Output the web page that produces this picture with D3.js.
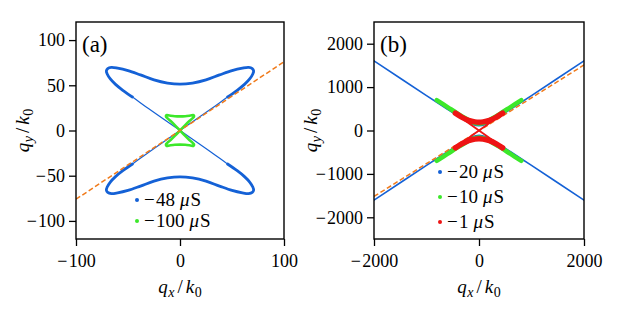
<!DOCTYPE html>
<html>
<head>
<meta charset="utf-8">
<script src="https://cdn.jsdelivr.net/npm/d3@7"></script>
<style>
  body { margin: 0; background: #fff; }
  svg { display: block; }
  svg text { font-family: "Liberation Serif"; }
</style>
</head>
<body>
<div class="chart"></div>
<script>
// ---- data ----
// panel (a)
const blue48Upper = [[45,36.5],[55,44.5],[62,51],[67,57],[70,62.5],[70.8,66],[69.5,68.5],[66,69.8],[60,69],[50,66.3],[38,61.5],[25,56],[12,52.5],[0,51.3],[-12,52.5],[-25,56],[-38,61.5],[-50,66.3],[-60,69],[-66,69.8],[-69.5,68.5],[-70.8,66],[-70,62.5],[-67,57],[-62,51],[-55,44.5],[-45,36.5]];
const blue48Lower = [[45,-36.5],[55,-44.5],[62,-51],[67,-57],[70,-62.5],[70.8,-66],[69.5,-68.5],[66,-69.8],[60,-69],[50,-66.3],[38,-61.5],[25,-56],[12,-52.5],[0,-51.3],[-12,-52.5],[-25,-56],[-38,-61.5],[-50,-66.3],[-60,-69],[-66,-69.8],[-69.5,-68.5],[-70.8,-66],[-70,-62.5],[-67,-57],[-62,-51],[-55,-44.5],[-45,-36.5]];
const blue48Diag1 = [[-55,44.5],[-45,36.5],[-30,24],[0,0],[30,-24],[45,-36.5],[55,-44.5]];
const blue48Diag2 = [[55,44.5],[45,36.5],[30,24],[0,0],[-30,-24],[-45,-36.5],[-55,-44.5]];
const green100 = [[0,0],[5,6],[9,10.5],[12,13.5],[13.5,15.5],[13,17],[10,16.5],[5,15.8],[0,15.6],[-5,15.8],[-10,16.5],[-13,17],[-13.5,15.5],[-12,13.5],[-9,10.5],[-5,6],[0,0],[5,-6],[9,-10.5],[12,-13.5],[13.5,-15.5],[13,-17],[10,-16.5],[5,-15.8],[0,-15.6],[-5,-15.8],[-10,-16.5],[-13,-17],[-13.5,-15.5],[-12,-13.5],[-9,-10.5],[-5,-6],[0,0]];
const orangeA = [[-100,-76],[100,76]];

// panel (b)
const blue20Upper = [[-2000,1605],[-1000,805],[-600,490],[-400,335],[-250,225],[-130,145],[0,110],[130,145],[250,225],[400,335],[600,490],[1000,805],[2000,1605]];
const blue20Lower = [[-2000,-1605],[-1000,-805],[-600,-490],[-400,-335],[-250,-225],[-130,-145],[0,-110],[130,-145],[250,-225],[400,-335],[600,-490],[1000,-805],[2000,-1605]];
const green10Upper = [[-806,700],[-600,540],[-400,385],[-250,275],[-130,195],[0,160],[130,195],[250,275],[400,385],[600,540],[806,700]];
const green10Lower = [[-806,-700],[-600,-540],[-400,-385],[-250,-275],[-130,-195],[0,-160],[130,-195],[250,-275],[400,-385],[600,-540],[806,-700]];
const red1Upper = [[-450,400],[-330,310],[-200,235],[-80,198],[0,190],[80,198],[200,235],[330,310],[450,400]];
const red1Lower = [[-450,-400],[-330,-310],[-200,-235],[-80,-198],[0,-190],[80,-198],[200,-235],[330,-310],[450,-400]];
const red1Diag1 = [[-380,330],[0,0],[380,-330]];
const red1Diag2 = [[380,330],[0,0],[-380,-330]];
const orangeB = [[-2000,-1520],[2000,1510]];

const ticksAx = [-100, 0, 100];
const ticksAy = [100, 50, 0, -50, -100];
const ticksBx = [-2000, 0, 2000];
const ticksBy = [2000, 1000, 0, -1000, -2000];

const legendA = ["\u221248", "\u2212100"];
const legendB = ["\u221220", "\u221210", "\u22121"];

// ---- setup ----
const width = 618;
const height = 314;
const fontSize = 18;

const colBlue = "#1461d6";
const colGreen = "#3ce82a";
const colRed = "#ee1414";
const colOrange = "#f07a1a";

const svg = d3
  .select(".chart")
  .append("svg")
  .attr("width", width)
  .attr("height", height);

const xA = d3.scaleLinear().domain([-100, 100]).range([76, 284]);
const yA = d3.scaleLinear().domain([-120, 120]).range([239, 22]);
const xB = d3.scaleLinear().domain([-2000, 2000]).range([374, 584]);
const yB = d3.scaleLinear().domain([-2500, 2500]).range([239, 22]);

// split a leading minus sign off so it can get TeX-like spacing
function widenMinus(sel) {
  sel.each(function () {
    let t = d3.select(this);
    let s = t.text();
    if (s.startsWith("\u2212")) {
      t.text("");
      t.append("tspan").text("\u2212");
      t.append("tspan").attr("dx", 1.2).text(s.slice(1));
    }
  });
}

function drawAxes(x, y, xTicks, yTicks, id) {
  let g = svg.append("g");

  let xAxis = g
    .append("g")
    .attr("transform", `translate(0,${y.range()[0]})`)
    .call(d3.axisBottom(x).tickValues(xTicks).tickSize(7).tickPadding(8).tickFormat(d3.format("d")));
  let yAxis = g
    .append("g")
    .attr("transform", `translate(${x.range()[0]},0)`)
    .call(d3.axisLeft(y).tickValues(yTicks).tickSize(7).tickPadding(4).tickFormat(d3.format("d")));

  [xAxis, yAxis].forEach((a) => {
    a.select(".domain").remove();
    a.selectAll("line").attr("stroke", "#000").attr("stroke-width", 1.3);
    a.selectAll("text").attr("fill", "#000").attr("font-size", fontSize).call(widenMinus);
  });

  svg
    .append("defs")
    .append("clipPath")
    .attr("id", id)
    .append("rect")
    .attr("x", x.range()[0])
    .attr("y", y.range()[1])
    .attr("width", x.range()[1] - x.range()[0])
    .attr("height", y.range()[0] - y.range()[1]);
}

function drawFrame(x, y) {
  svg
    .append("rect")
    .attr("x", x.range()[0])
    .attr("y", y.range()[1])
    .attr("width", x.range()[1] - x.range()[0])
    .attr("height", y.range()[0] - y.range()[1])
    .attr("fill", "none")
    .attr("stroke", "#000")
    .attr("stroke-width", 1.4);
}

function mathLabel(g, a, sa, b, sb) {
  let t = g.append("text").attr("font-size", 19).attr("text-anchor", "middle");
  t.append("tspan").attr("font-style", "italic").text(a);
  t.append("tspan").attr("font-style", "italic").attr("font-size", 14).attr("dy", 3.5).attr("dx", 0.5).text(sa);
  t.append("tspan").attr("dy", -3.5).attr("dx", 3).text("/");
  t.append("tspan").attr("font-style", "italic").attr("dx", 3).text(b);
  t.append("tspan").attr("font-size", 14).attr("dy", 3.5).attr("dx", 0.5).text(sb);
  return t;
}

function drawLabels(x, y, yLabelX, tag) {
  let cx = (x.range()[0] + x.range()[1]) / 2;
  let cy = (y.range()[0] + y.range()[1]) / 2;

  mathLabel(svg.append("g").attr("transform", `translate(${cx},293)`), "q", "x", "k", "0");
  mathLabel(svg.append("g").attr("transform", `translate(${yLabelX},${cy}) rotate(-90)`), "q", "y", "k", "0");

  svg
    .append("text")
    .attr("x", x.range()[0] + 6)
    .attr("y", y.range()[1] + 30)
    .attr("font-size", 23)
    .text(tag);
}

function drawCurve(panel, line, data, color, w, cap = "round") {
  panel
    .append("path")
    .attr("d", line(data))
    .attr("fill", "none")
    .attr("stroke", color)
    .attr("stroke-width", w)
    .attr("stroke-linecap", cap)
    .attr("stroke-linejoin", "round");
}

function drawLegend(labels, colors, x0, ys) {
  let g = svg.append("g");
  labels.forEach((lab, i) => {
    g.append("circle")
      .attr("cx", x0)
      .attr("cy", ys[i])
      .attr("r", 2)
      .attr("fill", colors[i]);
    let t = g
      .append("text")
      .attr("x", x0 + 7)
      .attr("y", ys[i] + 6)
      .attr("font-size", 19);
    t.append("tspan").text("\u2212");
    t.append("tspan").attr("dx", 1.2).text(lab.slice(1));
    t.append("tspan").attr("dx", 5).attr("font-style", "italic").text("\u03bc");
    t.append("tspan").attr("dx", 1).text("S");
  });
}

// ---- panel (a) ----
drawAxes(xA, yA, ticksAx, ticksAy, "clipA");
let lineA = d3
  .line()
  .x((d) => xA(d[0]))
  .y((d) => yA(d[1]))
  .curve(d3.curveCatmullRom.alpha(0.5));
let panelA = svg.append("g").attr("clip-path", "url(#clipA)");
drawCurve(panelA, lineA, blue48Diag1, colBlue, 1.2);
drawCurve(panelA, lineA, blue48Diag2, colBlue, 1.2);
drawCurve(panelA, lineA, blue48Upper, colBlue, 2.8, "butt");
drawCurve(panelA, lineA, blue48Lower, colBlue, 2.8, "butt");
drawCurve(panelA, lineA, green100, colGreen, 2.6);
panelA
  .append("path")
  .attr("d", d3.line().x((d) => xA(d[0])).y((d) => yA(d[1]))(orangeA))
  .attr("stroke", colOrange)
  .attr("stroke-width", 1.5)
  .attr("stroke-dasharray", "5,2.6");
drawFrame(xA, yA);
drawLabels(xA, yA, 29, "(a)");
drawLegend(legendA, [colBlue, colGreen], 137, [200, 221]);

// ---- panel (b) ----
drawAxes(xB, yB, ticksBx, ticksBy, "clipB");
let lineB = d3
  .line()
  .x((d) => xB(d[0]))
  .y((d) => yB(d[1]))
  .curve(d3.curveCatmullRom.alpha(0.5));
let panelB = svg.append("g").attr("clip-path", "url(#clipB)");
drawCurve(panelB, lineB, blue20Upper, colBlue, 1.6);
drawCurve(panelB, lineB, blue20Lower, colBlue, 1.6);
drawCurve(panelB, lineB, green10Upper, colGreen, 4.5);
drawCurve(panelB, lineB, green10Lower, colGreen, 4.5);
panelB
  .append("path")
  .attr("d", d3.line().x((d) => xB(d[0])).y((d) => yB(d[1]))(orangeB))
  .attr("stroke", colOrange)
  .attr("stroke-width", 1.5)
  .attr("stroke-dasharray", "5,2.6");
drawCurve(panelB, lineB, red1Diag1, colRed, 1.8);
drawCurve(panelB, lineB, red1Diag2, colRed, 1.8);
drawCurve(panelB, lineB, red1Upper, colRed, 5.5);
drawCurve(panelB, lineB, red1Lower, colRed, 5.5);
drawFrame(xB, yB);
drawLabels(xB, yB, 317, "(b)");
drawLegend(legendB, [colBlue, colGreen, colRed], 440, [172, 197, 222]);
</script>
</body>
</html>
